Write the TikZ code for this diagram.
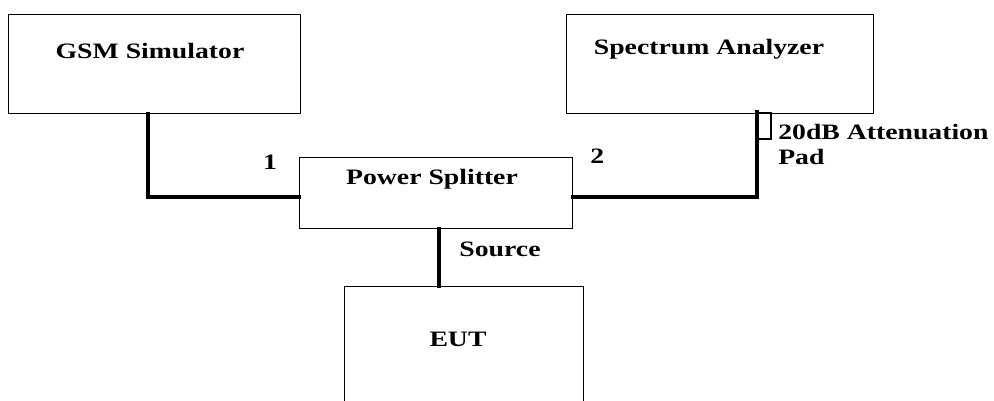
\documentclass[tikz,border=0pt]{standalone}
\usepackage{fontspec}
\setmainfont{Liberation Serif}[FakeStretch=1.26]
\begin{document}
\begin{tikzpicture}[x=0.75pt,y=-0.75pt,
  box/.style={draw, line width=1pt, inner sep=0pt, anchor=north west},
  lbl/.style={font=\bfseries\fontsize{16.5}{19}\selectfont, inner sep=0pt, anchor=base},
  wire/.style={line width=3pt, line cap=rect}]
\useasboundingbox (0,0) rectangle (994,400);
\clip (0,0) rectangle (994,400);
% boxes
\node[box, minimum width=292*0.75pt, minimum height=99*0.75pt] (gsm) at (8,14) {};
\node[box, minimum width=307*0.75pt, minimum height=99*0.75pt] (sa) at (566,14) {};
\node[box, minimum width=273*0.75pt, minimum height=71*0.75pt] (ps) at (299,157) {};
\node[box, minimum width=239*0.75pt, minimum height=140*0.75pt] (eut) at (344,286) {};
\node[draw, line width=1.5pt, inner sep=0pt, anchor=north west, minimum width=13*0.75pt, minimum height=26*0.75pt] (pad) at (757,112) {};
% texts
\node[lbl] (tgsm) at (150,58) {GSM Simulator};
\node[lbl] (tsa) at (709,54) {Spectrum Analyzer};
\node[lbl] (tps) at (432,184) {Power Splitter};
\node[lbl] (teut) at (458,346) {EUT};
\node[lbl] (tsrc) at (500,256) {Source};
\node[lbl] (tone) at (270,169) {1};
\node[lbl, anchor=base west] (ttwo) at (590,163) {2};
\node[lbl, anchor=base west] (tatt) at (778,139) {20dB Attenuation};
\node[lbl, anchor=base west] (tpad) at (778,164) {Pad};
% wires
\coordinate (c1) at (148,197);
\coordinate (c2) at (757,197);
\draw[wire] (gsm.south west -| c1) -- (c1) -- (ps.west |- c1);
\draw[wire] (ps.east |- c2) -- (c2) -- (pad.south west);
\draw[wire] (pad.south west) -- (pad.north west);
\draw[wire] (ps.south -| 439,0) -- (eut.north -| 439,0);
\end{tikzpicture}
\end{document}
